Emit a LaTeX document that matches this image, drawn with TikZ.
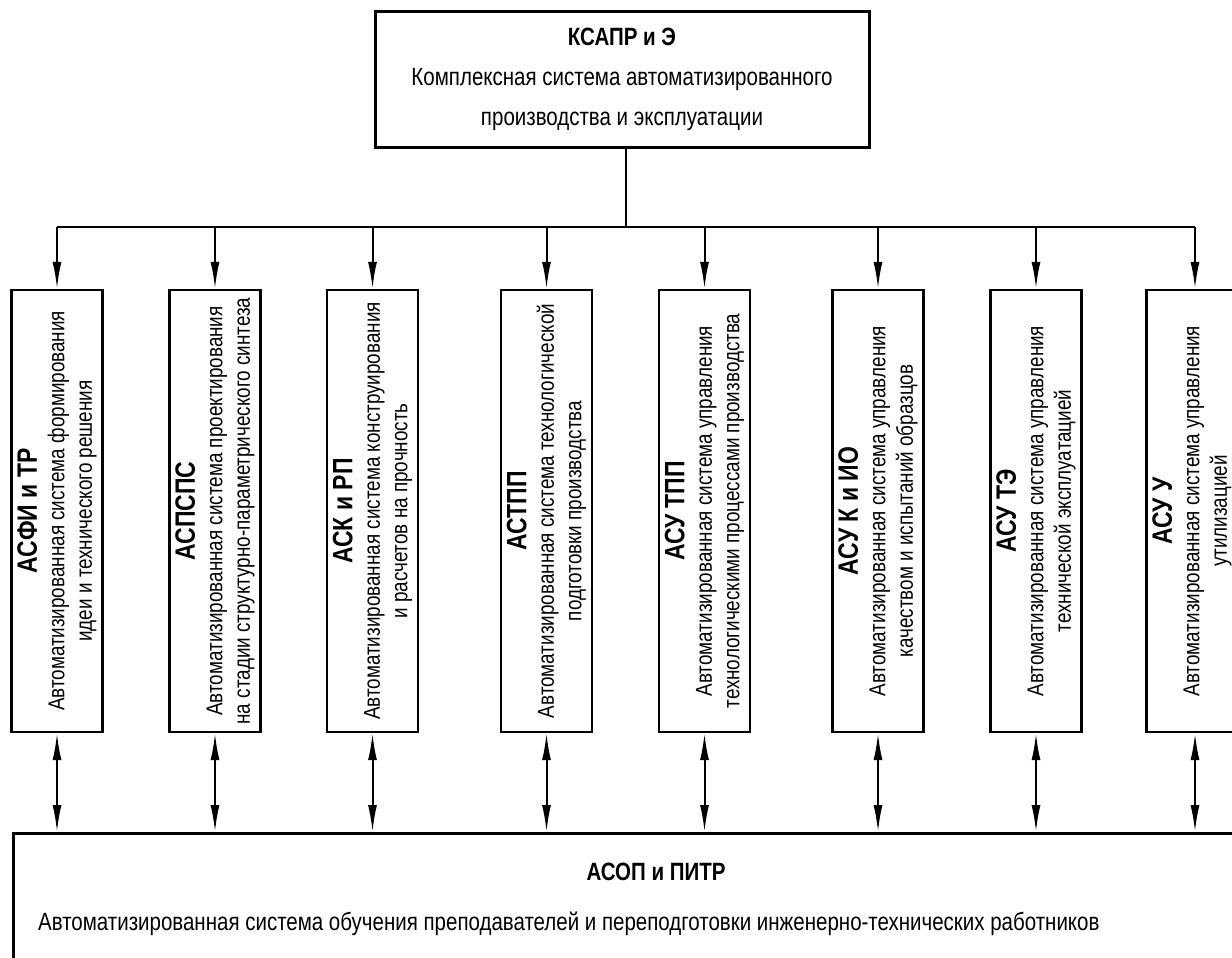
\documentclass[tikz,border=0pt]{standalone}
\usepackage{fontspec}
\setmainfont{Liberation Sans}[FakeStretch=0.82]
\usetikzlibrary{arrows.meta}
\newcommand{\vtitle}[1]{{\fontsize{28}{27.5}\selectfont\bfseries #1}}
\begin{document}
\begin{tikzpicture}[x=1pt,y=-1pt,
  sysbox/.style={draw, line width=2.4pt, rotate=90, minimum width=442pt, minimum height=91pt,
    inner sep=0pt, align=center, font=\fontsize{23}{27.5}\selectfont},
  bigbox/.style={draw, line width=3pt},
  conn/.style={line width=2pt},
  arr/.style={conn, -{Latex[length=27pt,width=9pt]}},
  darr/.style={conn, {Latex[length=27pt,width=9pt]}-{Latex[length=27pt,width=9pt]}},
  lbl/.style={inner sep=0pt, font=\fontsize{25}{40}\selectfont}
]
\useasboundingbox (0,0) rectangle (1232,958);
\clip (0,0) rectangle (1232,958);
% top box
\node[bigbox, minimum width=494pt, minimum height=135pt, align=center, inner sep=0pt,
      font=\fontsize{25}{40}\selectfont] (top) at (622,79.5)
  {\textbf{КСАПР и Э}\\Комплексная система автоматизированного\\производства и эксплуатации};
% subsystem boxes
\node[sysbox] (b1) at (57,511) {\vtitle{АСФИ и ТР}\\Автоматизированная система формирования\\идеи и технического решения};
\node[sysbox] (b2) at (215,511) {\vtitle{АСПСПС}\\Автоматизированная система проектирования\\на стадии структурно-параметрического синтеза};
\node[sysbox] (b3) at (372.5,511) {\vtitle{АСК и РП}\\Автоматизированная система конструирования\\и расчетов на прочность};
\node[sysbox] (b4) at (546.5,511) {\vtitle{АСТПП}\\Автоматизированная система технологической\\подготовки производства};
\node[sysbox] (b5) at (704.5,511) {\vtitle{АСУ ТПП}\\Автоматизированная система управления\\технологическими процессами производства};
\node[sysbox] (b6) at (878,511) {\vtitle{АСУ К и ИО}\\Автоматизированная система управления\\качеством и испытаний образцов};
\node[sysbox] (b7) at (1036,511) {\vtitle{АСУ ТЭ}\\Автоматизированная система управления\\технической эксплуатацией};
\node[sysbox] (b8) at (1192,511) {\vtitle{АСУ У}\\Автоматизированная система управления\\утилизацией};
% bottom box
\node[bigbox, anchor=north west, minimum width=1400pt, minimum height=200pt] (bot) at (12,832) {};
\node[lbl, anchor=base] (botT) at (656,880) {\textbf{АСОП и ПИТР}};
\node[lbl, anchor=base west] (botD) at (38,930) {Автоматизированная система обучения преподавателей и переподготовки инженерно-технических работников};
% connectors
\coordinate (hub) at (626,227);
\coordinate (h8) at (1195,227);
\draw[conn] (top.south -| hub) -- (hub);
\draw[conn] (b1 |- hub) -- (h8);
\foreach \b in {b1,b2,b3,b4,b5,b6,b7}{
  \draw[arr] (\b |- hub) -- (\b);
  \draw[darr] (\b) -- (\b |- bot.north);
}
\draw[arr] (h8) -- (h8 |- b8.east);
\draw[darr] (h8 |- b8.west) -- (h8 |- bot.north);
\end{tikzpicture}
\end{document}
